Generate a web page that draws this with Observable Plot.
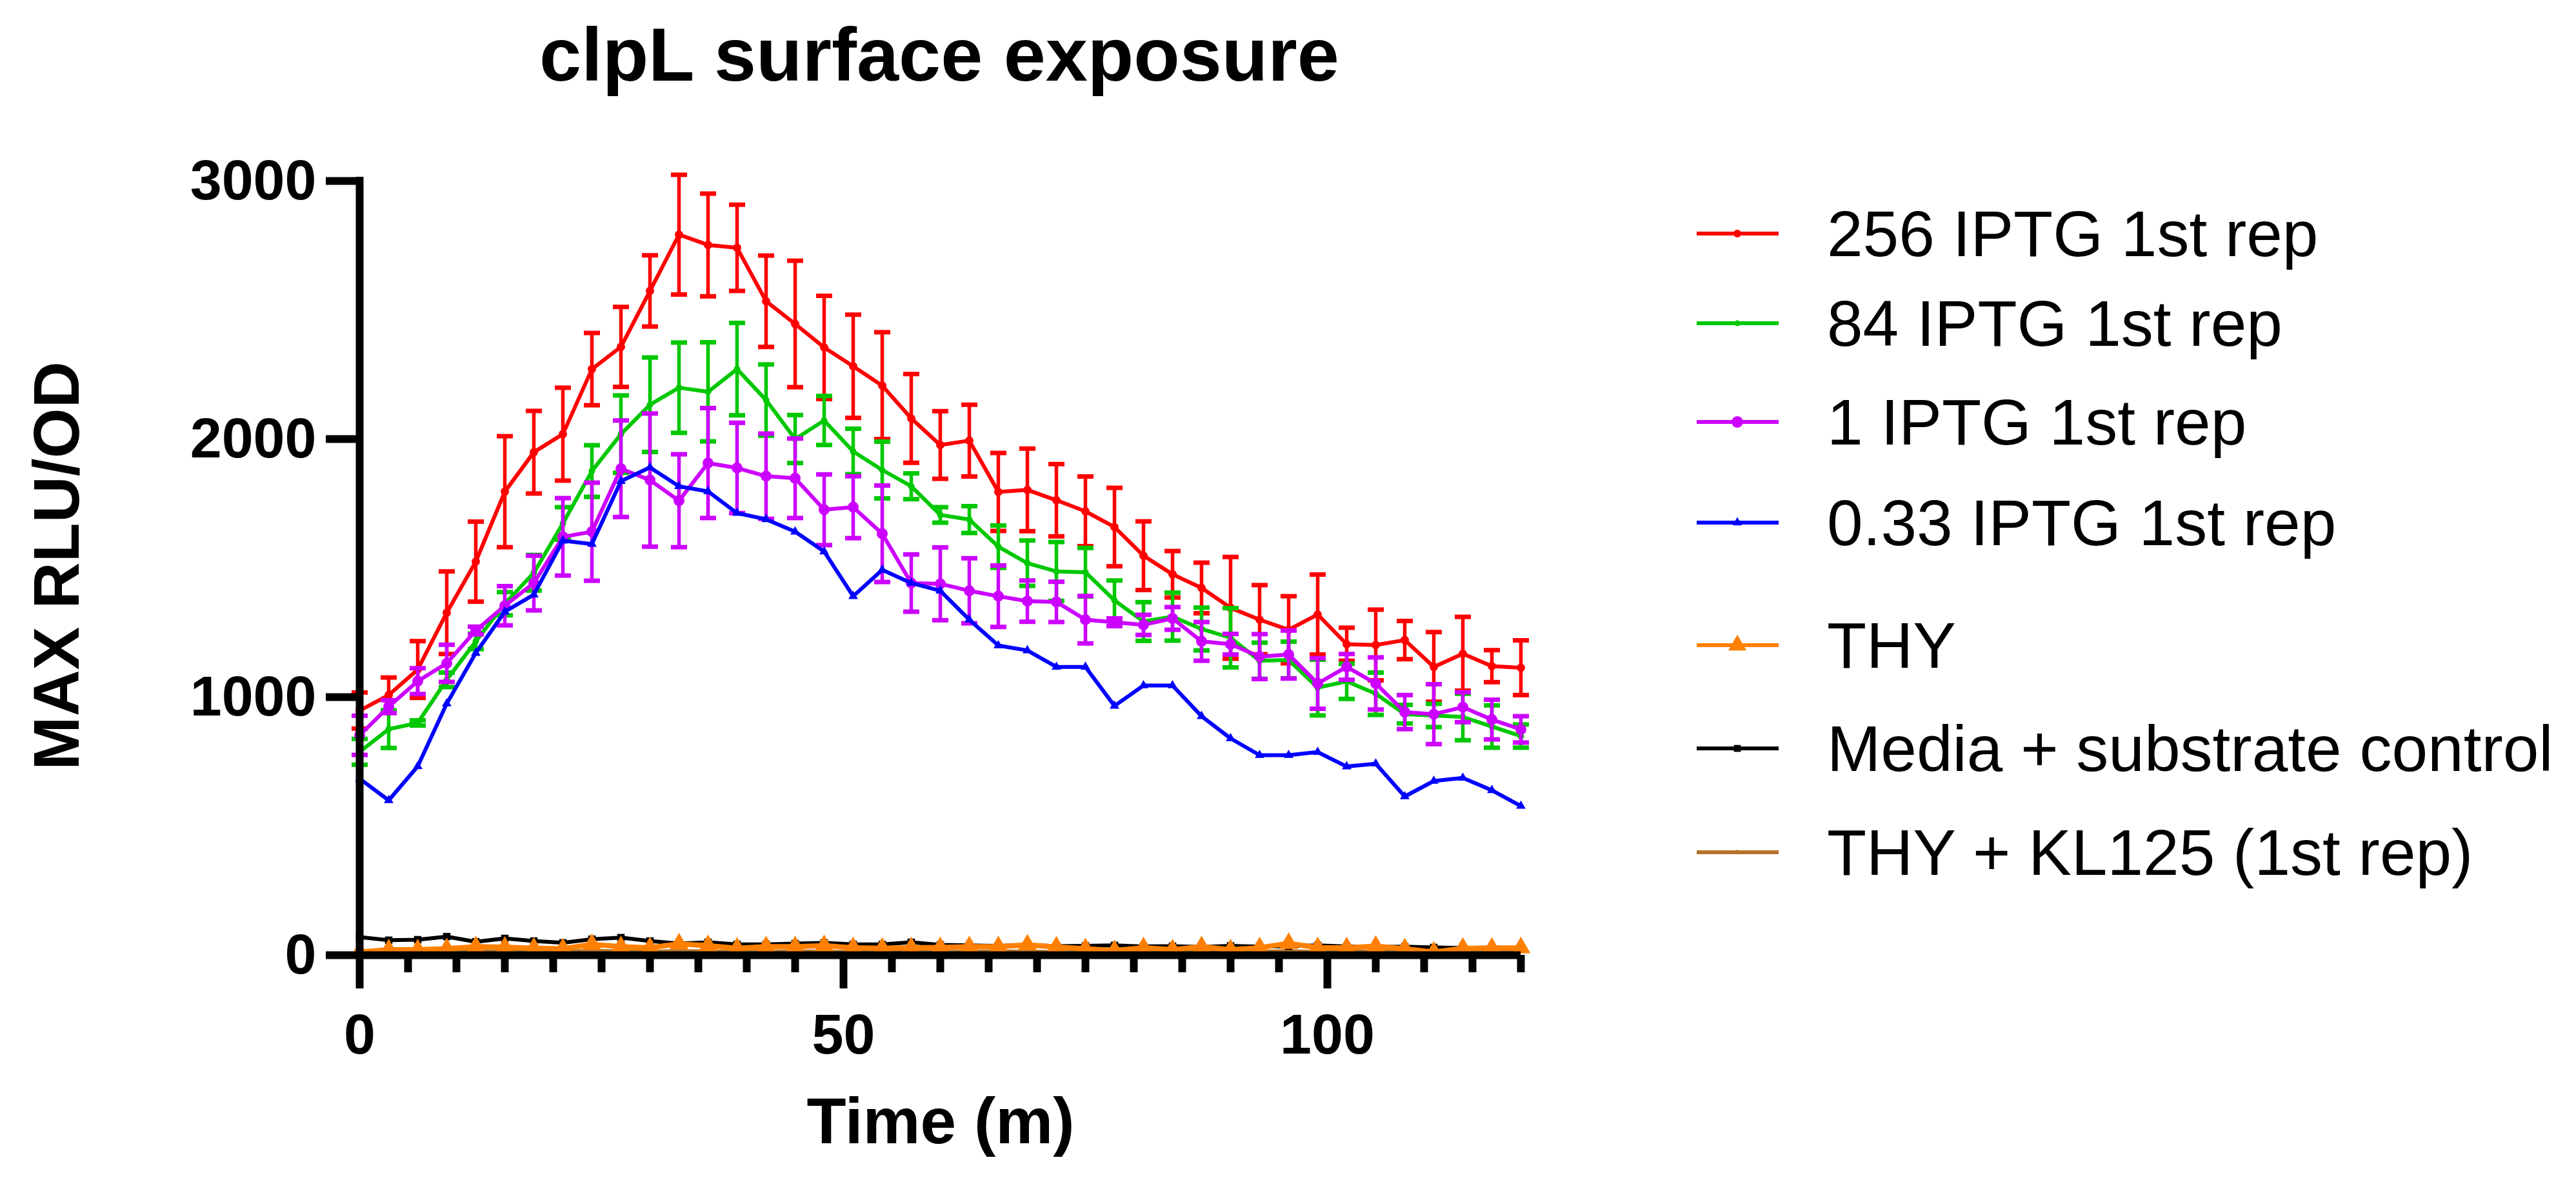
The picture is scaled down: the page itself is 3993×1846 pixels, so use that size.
<!DOCTYPE html>
<html><head><meta charset="utf-8">
<script src="https://cdn.jsdelivr.net/npm/d3@7"></script>
<script src="https://cdn.jsdelivr.net/npm/@observablehq/plot@0.6"></script>
<style>
body{margin:0;background:#fff;}
#wrap{position:relative;width:3993px;height:1846px;overflow:hidden;background:#fff;}
#overlay{position:absolute;left:0;top:0;pointer-events:none;}
</style></head>
<body><div id="wrap"></div>
<script>
// ---- data ----
const time = [0,3,6,9,12,15,18,21,24,27,30,33,36,39,42,45,48,51,54,57,60,63,66,69,72,75,78,81,84,87,90,93,96,99,102,105,108,111,114,117,120];

const seriesNames = ["256 IPTG 1st rep","84 IPTG 1st rep","1 IPTG 1st rep","0.33 IPTG 1st rep","THY","Media + substrate control","THY + KL125 (1st rep)"];

const iptg256 = [948,1008,1107,1327,1525,1796,1949,2019,2271,2357,2574,2792,2752,2741,2534,2446,2355,2282,2207,2080,1977,1994,1795,1803,1763,1720,1659,1548,1476,1423,1346,1300,1261,1320,1205,1202,1221,1117,1168,1120,1114];
const iptg256Err = [70,68,110,160,155,215,160,180,140,155,138,232,199,167,177,245,200,200,207,172,131,139,151,160,140,135,152,133,90,98,197,134,130,155,64,137,74,135,143,62,106];

const iptg84 = [788,876,900,1067,1216,1362,1482,1673,1876,2019,2133,2199,2183,2271,2151,2000,2072,1952,1880,1817,1706,1688,1583,1519,1487,1484,1375,1293,1312,1264,1230,1141,1144,1037,1061,1013,934,929,923,886,849];
const iptg84Err = [50,73,10,28,30,45,69,63,100,150,183,175,192,179,138,93,95,88,110,50,30,52,82,88,114,94,77,75,93,83,115,70,71,108,68,82,36,45,90,82,45];

const iptg1 = [852,963,1062,1131,1258,1354,1442,1621,1641,1885,1841,1761,1907,1888,1856,1848,1726,1736,1633,1442,1439,1412,1391,1372,1369,1300,1290,1280,1305,1216,1205,1157,1165,1053,1117,1053,942,934,961,913,875];
const iptg1Err = [76,25,50,72,15,76,106,150,190,187,258,180,213,175,165,154,137,120,187,111,141,126,119,80,78,92,15,39,44,75,40,87,93,98,50,101,66,116,58,77,51];

const iptg033 = [684,600,732,975,1171,1331,1397,1606,1593,1837,1890,1817,1797,1713,1689,1641,1564,1391,1493,1442,1412,1300,1200,1181,1117,1117,966,1045,1045,926,840,775,775,787,731,742,615,675,687,639,578];

const thy = [12,21,21,25,33,31,27,25,42,33,29,44,37,27,33,33,37,29,27,29,30,33,33,40,32,25,18,29,21,33,21,29,46,29,29,35,25,12,27,27,29];

const mediaCtrl = [70,58,60,72,52,65,55,48,62,68,55,45,50,42,42,45,48,42,42,50,40,38,36,40,35,36,38,34,35,32,36,33,35,38,34,32,33,30,28,30,28];

const thyKL125 = [15,14,16,15,17,16,14,15,18,16,15,17,16,14,15,16,15,14,16,15,14,15,16,15,14,13,15,14,15,16,14,15,17,14,15,16,14,12,14,15,14];

const yTicks = [0,1000,2000,3000];
const xMajorTicks = [0,50,100];
const xMinorTicks = [5,10,15,20,25,30,35,40,45,55,60,65,70,75,80,85,90,95,105,110,115,120];

const titleText = "clpL surface exposure";
const xLabel = "Time (m)";
const yLabel = "MAX RLU/OD";

// ---- series styling ----
const series = [
  {name: seriesNames[0], values: iptg256, err: iptg256Err, color: "#ff0000", symbol: "circle", r: 6.5, lr: 6, sw: 6},
  {name: seriesNames[1], values: iptg84, err: iptg84Err, color: "#00c800", symbol: "circle", r: 5, lr: 4.5, sw: 6},
  {name: seriesNames[2], values: iptg1, err: iptg1Err, color: "#cc00ff", symbol: "circle", r: 8.5, lr: 9, sw: 6},
  {name: seriesNames[3], values: iptg033, err: null, color: "#0000ff", symbol: "triangle", r: 5.5, lr: 5.5, sw: 6},
  {name: seriesNames[6], values: thyKL125, err: null, color: "#b5732a", symbol: "triangle", r: 3, lr: 3, sw: 5},
  {name: seriesNames[5], values: mediaCtrl, err: null, color: "#000000", symbol: "square", r: 6.5, lr: 6, sw: 6},
  {name: seriesNames[4], values: thy, err: null, color: "#ff8000", symbol: "triangle", r: 11, lr: 10.5, sw: 8}
];

const table = [];
for (const s of series) {
  s.values.forEach((v, i) => table.push({series: s.name, t: time[i], y: v, err: s.err ? s.err[i] : 0}));
}

const capSymbol = {draw(ctx, size) { const r = Math.sqrt(size / Math.PI); ctx.moveTo(-r, 0); ctx.lineTo(r, 0); }};

function seriesMarks(s) {
  const rows = table.filter(d => d.series === s.name);
  const m = [];
  if (s.err) {
    m.push(Plot.ruleX(rows, {x: "t", y1: d => d.y - d.err, y2: d => d.y + d.err, stroke: s.color, strokeWidth: 5.5}));
    m.push(Plot.dot(rows, {x: "t", y: d => d.y + d.err, symbol: capSymbol, r: 12.5, stroke: s.color, strokeWidth: 7, fill: "none"}));
    m.push(Plot.dot(rows, {x: "t", y: d => d.y - d.err, symbol: capSymbol, r: 12.5, stroke: s.color, strokeWidth: 7, fill: "none"}));
  }
  m.push(Plot.line(rows, {x: "t", y: "y", stroke: s.color, strokeWidth: s.sw}));
  m.push(Plot.dot(rows, {x: "t", y: "y", symbol: s.symbol, r: s.r, fill: s.color, stroke: "none"}));
  return m;
}

const FONT = "'Liberation Sans', Arial, Helvetica, sans-serif";

const chart = Plot.plot({
  width: 3993,
  height: 1846,
  marginLeft: 557,
  marginRight: 1636,
  marginTop: 280,
  marginBottom: 366,
  x: {domain: [0, 120], label: null},
  y: {domain: [0, 3000], label: null},
  style: {fontFamily: FONT, background: "white", color: "black", overflow: "visible"},
  marks: [
    ...series.flatMap(seriesMarks),
    Plot.ruleX([0], {stroke: "black", strokeWidth: 12, strokeLinecap: "square"}),
    Plot.ruleY([0], {stroke: "black", strokeWidth: 12}),
    Plot.axisY(yTicks, {tickSize: 52, strokeWidth: 12, tickPadding: 15, fontSize: 88, fontWeight: "bold", tickFormat: d => String(d), label: null}),
    Plot.axisX(xMajorTicks, {tickSize: 52, strokeWidth: 12, tickPadding: 38, fontSize: 88, fontWeight: "bold", tickFormat: d => String(d), label: null}),
    Plot.axisX(xMinorTicks, {tickSize: 27, strokeWidth: 12, tickFormat: () => "", label: null})
  ]
});

const wrap = document.getElementById("wrap");
wrap.appendChild(chart);

// ---- overlay: title, axis titles, legend ----
const svg = d3.select(wrap).append("svg")
  .attr("id", "overlay")
  .attr("width", 3993).attr("height", 1846)
  .attr("font-family", FONT);

svg.append("text").attr("x", 1456).attr("y", 125).attr("text-anchor", "middle")
  .attr("font-size", 117).attr("font-weight", "bold").attr("fill", "black").text(titleText);

svg.append("text").attr("x", 1458).attr("y", 1772).attr("text-anchor", "middle")
  .attr("font-size", 100).attr("font-weight", "bold").attr("fill", "black").text(xLabel);

svg.append("text").attr("transform", "translate(122,877) rotate(-90)").attr("text-anchor", "middle")
  .attr("font-size", 100).attr("font-weight", "bold").attr("fill", "black").text(yLabel);

const symbolMap = {circle: d3.symbolCircle, triangle: d3.symbolTriangle, square: d3.symbolSquare};
const legendOrder = [0, 1, 2, 3, 6, 5, 4]; // index into series array, in legend order
const legendRowY = [362, 501, 654, 810, 1000, 1160, 1321];
legendOrder.forEach((si, k) => {
  const s = series[si];
  const g = svg.append("g").attr("transform", `translate(0,${legendRowY[k]})`);
  g.append("line").attr("x1", 2630).attr("x2", 2757).attr("y1", 0).attr("y2", 0)
    .attr("stroke", s.color).attr("stroke-width", 6);
  g.append("path").attr("transform", "translate(2693,0)")
    .attr("d", d3.symbol(symbolMap[s.symbol], Math.PI * s.lr * s.lr)())
    .attr("fill", s.color);
  g.append("text").attr("x", 2832).attr("y", 35).attr("font-size", 100).attr("fill", "black").text(s.name);
});
</script>
</body></html>
